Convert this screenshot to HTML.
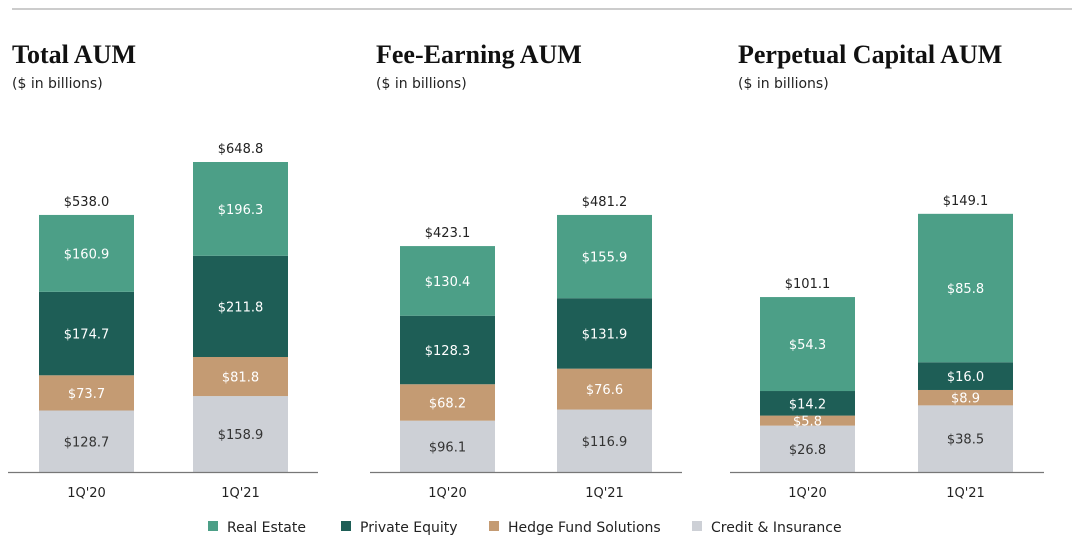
<!DOCTYPE html>
<html><head><meta charset="utf-8"><style>
body{margin:0;background:#fff;width:1080px;height:545px;overflow:hidden}
svg{display:block}
.t{font-family:"Liberation Serif",serif;font-weight:bold;font-size:26px;fill:#111}
.s{font-family:"DejaVu Sans","Liberation Sans",sans-serif;font-size:14px;fill:#222}
.v{font-family:"DejaVu Sans","Liberation Sans",sans-serif;font-size:13px;text-anchor:middle}
.l{font-family:"DejaVu Sans","Liberation Sans",sans-serif;font-size:14px;fill:#222}
</style></head><body>
<svg id="c" width="1080" height="545" xmlns="http://www.w3.org/2000/svg">
<line x1="12" y1="9" x2="1072" y2="9" stroke="#ccc" stroke-width="2"/>
</svg>
<script>
const panelTitles=["Total AUM","Fee-Earning AUM","Perpetual Capital AUM"];
const categories=["1Q'20","1Q'21"];
const seriesNames=["Credit & Insurance","Hedge Fund Solutions","Private Equity","Real Estate"];
const credit=[[128.7,158.9],[96.1,116.9],[26.8,38.5]];
const hedge=[[73.7,81.8],[68.2,76.6],[5.8,8.9]];
const privateEq=[[174.7,211.8],[128.3,131.9],[14.2,16.0]];
const realEstate=[[160.9,196.3],[130.4,155.9],[54.3,85.8]];
const totals=[[538.0,648.8],[423.1,481.2],[101.1,149.1]];
const maxVals=[648.8,481.2,149.1];

const colors=["#cdd0d6","#c49b73","#1e5e56","#4c9f87"];
const textCol=["#333","#fff","#fff","#fff"];
const panels=[{x0:8,x1:318,bars:[39,193],tx:12},{x0:370,x1:682,bars:[400,557],tx:376},{x0:730,x1:1044,bars:[760,918],tx:738}];
const pxTop=[162,215,214];
const base=472,bw=95;
const svg=document.getElementById('c');
const NS="http://www.w3.org/2000/svg";
function mk(tag,attrs,txt){const e=document.createElementNS(NS,tag);for(const k in attrs)e.setAttribute(k,attrs[k]);if(txt!==undefined)e.textContent=txt;svg.appendChild(e);return e;}
const stacks=[credit,hedge,privateEq,realEstate];
panels.forEach((p,pi)=>{
  const scale=(base-pxTop[pi])/maxVals[pi];
  const y=v=>base-v*scale;
  const t=mk('text',{x:p.tx,y:63,class:'t'},panelTitles[pi]);
  
  
  const s=mk('text',{x:p.tx,y:88,class:'s'},'($ in billions)');
  
  
  categories.forEach((cat,ci)=>{
    let cum=0;const bx=p.bars[ci];
    stacks.forEach((arr,si)=>{
      const v=arr[pi][ci];
      const y0=y(cum),y1=y(cum+v);
      const r=mk('rect',{x:bx,y:y1,width:bw,height:y0-y1,fill:colors[si]});
      
      
      const lt=mk('text',{x:bx+bw/2,y:(y0+y1)/2+5,class:'v',fill:textCol[si]},'$'+v.toFixed(1));
      
      
      cum+=v;
    });
    const tt=mk('text',{x:bx+bw/2,y:y(totals[pi][ci])-9,class:'v',fill:'#222'},'$'+totals[pi][ci].toFixed(1));
    
    
    const xl=mk('text',{x:bx+bw/2,y:497,class:'v',fill:'#222'},cat);
    
    
  });
  const ax=mk('line',{x1:p.x0,y1:base+0.5,x2:p.x1,y2:base+0.5,stroke:'#777','stroke-width':1.2});
  
  
});
const legX=[208,341,489,692];
const legOrder=[3,2,1,0];
legOrder.forEach((si,i)=>{
  const r=mk('rect',{x:legX[i],y:521,width:10,height:10,fill:colors[si]});
  
  
  const t=mk('text',{x:legX[i]+19,y:532,class:'l'},seriesNames[si]);
  
  
});
</script>
</body></html>
